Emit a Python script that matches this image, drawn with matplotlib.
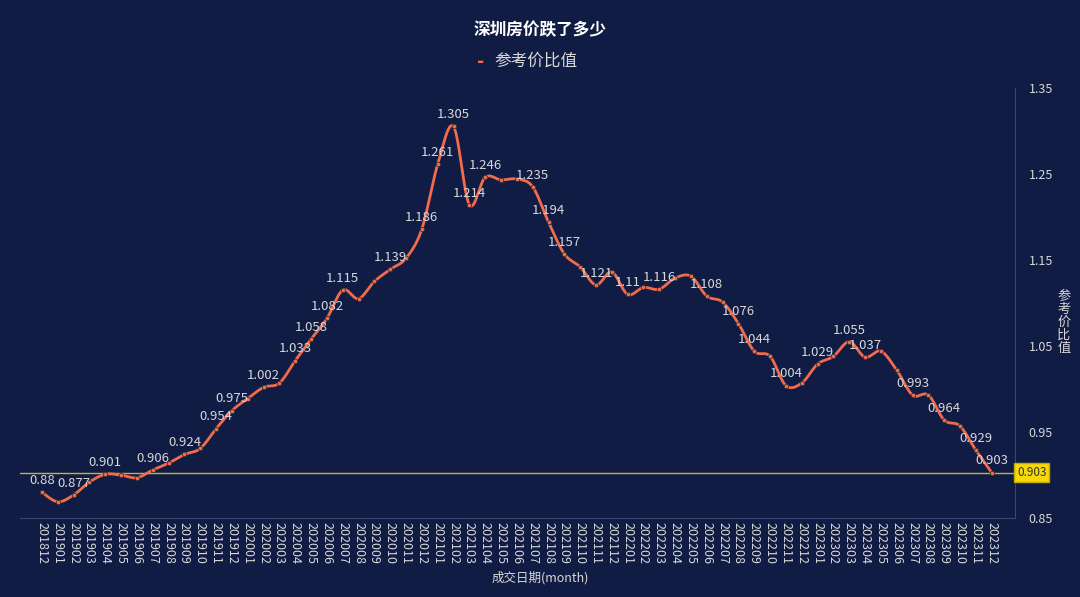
import matplotlib.pyplot as plt
import numpy as np

plt.rcParams['font.family'] = ['Noto Sans CJK SC', 'DejaVu Sans']

months = ["201812"] + [f"{y}{m:02d}" for y in range(2019, 2024) for m in range(1, 13)]
values = [0.88, 0.869, 0.877, 0.892, 0.901, 0.900, 0.897, 0.906, 0.914, 0.924, 0.931, 0.954,
          0.975, 0.989, 1.002, 1.007, 1.033, 1.058, 1.082, 1.115, 1.105, 1.125, 1.139, 1.152,
          1.186, 1.261, 1.305, 1.214, 1.246, 1.243, 1.244, 1.235, 1.194, 1.157, 1.142, 1.121,
          1.136, 1.11, 1.118, 1.116, 1.129, 1.131, 1.108, 1.101, 1.076, 1.044, 1.038, 1.004,
          1.007, 1.029, 1.038, 1.055, 1.037, 1.044, 1.022, 0.993, 0.993, 0.964, 0.957, 0.929, 0.903]
labelled = ["201812", "201902", "201904", "201907", "201909", "201911", "201912", "202002",
            "202004", "202005", "202006", "202007", "202010", "202012", "202101", "202102",
            "202103", "202104", "202107", "202108", "202109", "202111", "202201", "202203",
            "202206", "202208", "202209", "202211", "202301", "202303", "202304", "202307",
            "202309", "202311", "202312"]
mark_value = 0.903

bg = "#111c44"
line_c = "#f26b4d"
txt = "#d8d8d8"

fig = plt.figure(figsize=(10.8, 5.97), dpi=100, facecolor=bg)
ax = fig.add_axes([0.0185, 0.132, 0.921, 0.721], facecolor=bg)

x = np.arange(len(values))
y = np.array(values)

# catmull-rom smoothing for display only
pts = np.vstack([np.r_[x[0], x, x[-1]], np.r_[y[0], y, y[-1]]]).T
sx, sy = [], []
t = np.linspace(0, 1, 12, endpoint=False)
for i in range(1, len(pts) - 2):
    p0, p1, p2, p3 = pts[i - 1], pts[i], pts[i + 1], pts[i + 2]
    for tt in t:
        c = 0.5 * ((2 * p1) + (-p0 + p2) * tt + (2 * p0 - 5 * p1 + 4 * p2 - p3) * tt ** 2
                   + (-p0 + 3 * p1 - 3 * p2 + p3) * tt ** 3)
        sx.append(c[0]); sy.append(c[1])
sx.append(x[-1]); sy.append(y[-1])

ax.plot(sx, sy, color=line_c, lw=2, zorder=3)
ax.scatter(x, y, s=10, color=line_c, edgecolor="#333333", linewidths=0.6, zorder=4)
for i, m in enumerate(months):
    if m in labelled:
        ax.text(i, values[i] + 0.006, f"{values[i]:g}", color=txt, fontsize=9.5,
                ha="center", va="bottom", zorder=5)

ax.axhline(mark_value, color="#c8b432", lw=1, zorder=2)
ax.text(61.6, mark_value, f"{mark_value}", color="#333333", fontsize=8.5, ha="left", va="center",
        bbox=dict(boxstyle="square,pad=0.25", fc="#f5d90a", ec="#c8a800"))

ax.set_xlim(-1.39, 61.45)
ax.set_ylim(0.85, 1.35)
ax.set_xticks(x)
ax.set_xticklabels(months, rotation=270, fontsize=9, color=txt)
ax.yaxis.tick_right()
ax.set_yticks([0.85, 0.95, 1.05, 1.15, 1.25, 1.35])
ax.set_yticklabels(["0.85", "0.95", "1.05", "1.15", "1.25", "1.35"], fontsize=9, color=txt)
ax.tick_params(axis="x", length=0, pad=3)
ax.tick_params(axis="y", length=0, pad=10)
for s in ["top", "left"]:
    ax.spines[s].set_visible(False)
ax.spines["bottom"].set_color("#3a4670")
ax.spines["right"].set_color("#3a4670")

fig.text(0.985, 0.46, "\n".join("参考价比值"), color=txt, fontsize=9.5, ha="center", va="center",
         linespacing=1.0)
fig.text(0.5, 0.032, "成交日期(month)", color=txt, fontsize=9, ha="center", va="center")

fig.text(0.5, 0.95, "深圳房价跌了多少", color="white", fontsize=12, fontweight="bold",
         ha="center", va="center")
fig.text(0.445, 0.897, "-", color=line_c, fontsize=14, fontweight="bold", ha="center", va="center")
fig.text(0.458, 0.897, "参考价比值", color=txt, fontsize=12, ha="left", va="center")

fig.savefig("out.png", dpi=100, facecolor=bg)
